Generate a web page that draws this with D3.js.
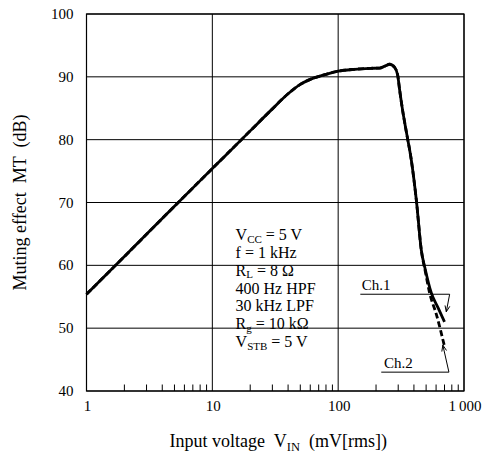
<!DOCTYPE html>
<html>
<head>
<meta charset="utf-8">
<script src="https://cdn.jsdelivr.net/npm/d3@7"></script>
<style>
  html, body { margin: 0; padding: 0; background: #fff; }
  svg text { font-family: "Liberation Serif", "DejaVu Serif", serif; fill: #000; }
</style>
</head>
<body>
<svg id="chart" width="490" height="456"></svg>
<script>
// ---- data ----
const xTickValues = [1, 10, 100, 1000];
const xTickLabels = ["1", "10", "100", "1\u2009000"];
const yTickValues = [40, 50, 60, 70, 80, 90, 100];
const yTickLabels = ["40", "50", "60", "70", "80", "90", "100"];

// Ch.1 (solid)
const ch1X = [1, 2, 5, 10, 20, 30, 40, 50, 60, 80, 100, 135, 180, 214, 235, 257, 281, 297, 308, 325, 350, 381, 418, 458, 493, 550, 620, 700];
const ch1Y = [55.4, 61.4, 69.4, 75.4, 81.4, 84.9, 87.3, 88.8, 89.6, 90.4, 90.9, 91.2, 91.35, 91.4, 91.7, 92.0, 91.5, 90.3, 87.9, 84.7, 81.0, 76.8, 70.4, 62.4, 59.3, 55.6, 53.3, 51.0];
// Ch.2 (dashed)
const ch2X = [1, 2, 5, 10, 20, 30, 40, 50, 60, 80, 100, 135, 180, 214, 235, 257, 281, 297, 308, 325, 350, 381, 418, 458, 493, 533, 603, 702];
const ch2Y = [55.4, 61.4, 69.4, 75.4, 81.4, 84.9, 87.3, 88.8, 89.6, 90.4, 90.9, 91.2, 91.35, 91.4, 91.7, 92.0, 91.5, 90.3, 87.9, 84.7, 81.0, 76.8, 70.4, 62.4, 59.0, 55.6, 52.2, 47.0];

const conditionLines = [
  [["V", ""], ["CC", "sub"], [" = 5 V", ""]],
  [["f = 1 kHz", ""]],
  [["R", ""], ["L", "sub"], [" = 8 \u03A9", ""]],
  [["400 Hz HPF", ""]],
  [["30 kHz LPF", ""]],
  [["R", ""], ["g", "sub"], [" = 10 k\u03A9", ""]],
  [["V", ""], ["STB", "sub"], [" = 5 V", ""]]
];

// ---- layout ----
const svg = d3.select("#chart");
const L = 86.5, R = 464, T = 14, B = 391;
const x = d3.scaleLog().domain([1, 1000]).range([L, R]);
const y = d3.scaleLinear().domain([40, 100]).range([B, T]);
const FONT = '"Liberation Serif", "DejaVu Serif", serif';

// grid
const g = svg.append("g");
g.selectAll("line.vg").data(xTickValues).enter().append("line")
  .attr("x1", d => x(d)).attr("x2", d => x(d)).attr("y1", T).attr("y2", B)
  .attr("stroke", "#000").attr("stroke-width", 1);
g.selectAll("line.hg").data(yTickValues).enter().append("line")
  .attr("x1", L).attr("x2", R).attr("y1", d => y(d)).attr("y2", d => y(d))
  .attr("stroke", "#000").attr("stroke-width", 1);
g.append("rect").attr("x", L).attr("y", T).attr("width", R - L).attr("height", B - T)
  .attr("fill", "none").attr("stroke", "#000").attr("stroke-width", 1.2);

// minor ticks on bottom axis
const minor = [];
[1, 10, 100].forEach(dec => { for (let k = 2; k <= 9; k++) minor.push(dec * k); });
g.selectAll("line.mt").data(minor).enter().append("line")
  .attr("x1", d => x(d)).attr("x2", d => x(d)).attr("y1", B).attr("y2", B - 6.5)
  .attr("stroke", "#000").attr("stroke-width", 1);

// tick labels
svg.selectAll("text.xt").data(xTickValues).enter().append("text")
  .attr("font-family", FONT)
  .attr("x", d => x(d) + 1).attr("y", B + 20).attr("text-anchor", "middle")
  .attr("font-size", 15).text((d, i) => xTickLabels[i]);
svg.selectAll("text.yt").data(yTickValues).enter().append("text")
  .attr("font-family", FONT)
  .attr("x", L - 13).attr("y", d => y(d) + 5).attr("text-anchor", "end")
  .attr("font-size", 15).text((d, i) => yTickLabels[i]);

// axis titles
const xt = svg.append("text").attr("font-family", FONT).attr("x", (L + R) / 2 + 3).attr("y", 447)
  .attr("text-anchor", "middle").attr("font-size", 18).attr("xml:space", "preserve");
xt.append("tspan").text("Input voltage  V");
xt.append("tspan").attr("font-size", 12.5).attr("dy", 4).text("IN");
xt.append("tspan").attr("dy", -4).text("  (mV[rms])");

svg.append("text").attr("font-family", FONT)
  .attr("transform", `translate(26,${(T + B) / 2}) rotate(-90)`)
  .attr("text-anchor", "middle").attr("font-size", 18).attr("xml:space", "preserve")
  .text("Muting effect  MT  (dB)");

// curves
const line = d3.line().x(d => x(d[0])).y(d => y(d[1])).curve(d3.curveMonotoneX);
svg.append("path").datum(ch2X.map((v, i) => [v, ch2Y[i]]))
  .attr("d", line).attr("fill", "none").attr("stroke", "#000")
  .attr("stroke-width", 2.8).attr("stroke-dasharray", "6,3");
svg.append("path").datum(ch1X.map((v, i) => [v, ch1Y[i]]))
  .attr("d", line).attr("fill", "none").attr("stroke", "#000")
  .attr("stroke-width", 2.8).attr("stroke-linejoin", "round");

// conditions text
const cx = x(15.3), cy0 = y(64.0), lh = 17.8;
conditionLines.forEach((parts, i) => {
  const t = svg.append("text").attr("font-family", FONT).attr("x", cx).attr("y", cy0 + i * lh)
    .attr("font-size", 16).attr("xml:space", "preserve");
  let sub = false;
  parts.forEach(([s, kind]) => {
    const ts = t.append("tspan").text(s);
    if (kind === "sub") { ts.attr("font-size", 11).attr("dy", 2.5); sub = true; }
    else if (sub) { ts.attr("dy", -2.5); sub = false; }
  });
});

// Ch labels with leaders
function leader(labelX, labelY, text, x0, x1, ly, tipX, tipY) {
  svg.append("text").attr("font-family", FONT).attr("x", x(labelX)).attr("y", y(labelY))
    .attr("font-size", 15).text(text);
  svg.append("line").attr("x1", x(x0)).attr("x2", x(x1)).attr("y1", y(ly)).attr("y2", y(ly))
    .attr("stroke", "#000").attr("stroke-width", 1);
  const sx = x(x1), sy = y(ly), ex = x(tipX), ey = y(tipY);
  svg.append("line").attr("x1", sx).attr("y1", sy).attr("x2", ex).attr("y2", ey)
    .attr("stroke", "#000").attr("stroke-width", 1);
  const ang = Math.atan2(ey - sy, ex - sx);
  const len = 6.5, spread = 0.38;
  const p1 = [ex - len * Math.cos(ang - spread), ey - len * Math.sin(ang - spread)];
  const p2 = [ex - len * Math.cos(ang + spread), ey - len * Math.sin(ang + spread)];
  svg.append("path").attr("d", `M${p1[0]},${p1[1]}L${ex},${ey}L${p2[0]},${p2[1]}`)
    .attr("fill", "none").attr("stroke", "#000").attr("stroke-width", 1);
}
leader(154, 56.1, "Ch.1", 150, 769, 55.4, 723, 52.6);
leader(231, 43.7, "Ch.2", 220, 759, 43.0, 679, 47.3);
</script>
</body>
</html>
